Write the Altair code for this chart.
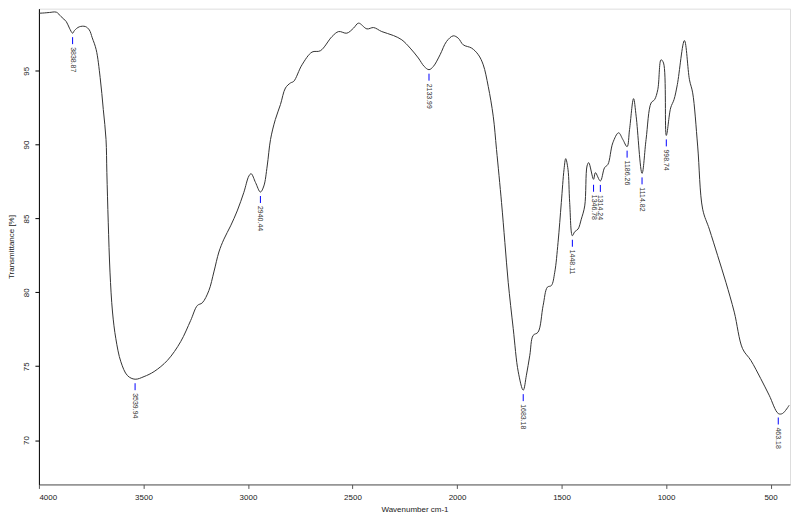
import altair as alt
import pandas as pd

wavenumber = [4000, 3974, 3950, 3916.5, 3894, 3869, 3854, 3838.87, 3830, 3807, 3778, 3759, 3745, 3726,
              3707, 3692, 3679, 3675, 3668.4, 3660, 3648, 3632, 3608, 3576, 3539.94, 3497, 3449, 3385,
              3322, 3274, 3242, 3218.5, 3187, 3163, 3139, 3115, 3083, 3051.5, 3019.6, 2995.7, 2984.7,
              2963.7, 2940.44, 2924, 2908, 2892, 2869, 2844.5, 2820.6, 2796.7, 2781, 2741.4, 2693.7,
              2653.6, 2598, 2566, 2527, 2495, 2471, 2431, 2399, 2360, 2304, 2264, 2224, 2185, 2157,
              2133.99, 2113, 2081, 2050, 2018, 1994, 1970, 1930, 1898, 1874.5, 1850.6, 1826.7, 1811,
              1787, 1771, 1755, 1731, 1707, 1683.18, 1668, 1651.7, 1636, 1612, 1588, 1567.7, 1548.6,
              1532.4, 1516.6, 1501, 1488, 1480, 1469, 1461, 1448.11, 1437, 1421, 1405.5, 1389, 1378,
              1370, 1346.78, 1338, 1314.24, 1294, 1278, 1254.6, 1227, 1207, 1186.26, 1174.6, 1155.5,
              1143, 1114.82, 1095.5, 1071.5, 1055, 1039.5, 1024, 1012, 998.74, 978, 962, 946, 912, 888,
              872.6, 848.7, 824.8, 793, 753, 713.7, 673.6, 634, 594.5, 547, 506.7, 463.18, 443, 411]
transmittance = [98.89, 98.91, 98.94, 98.96, 98.66, 98.32, 97.88, 97.54, 97.72, 97.97, 97.99, 97.76,
                 97.23, 96.42, 94.53, 92.37, 90.35, 88.10, 84.75, 81.37, 78.67, 76.86, 75.30, 74.36,
                 74.12, 74.30, 74.64, 75.40, 76.66, 78.10, 79.11, 79.29, 80.12, 81.38, 82.73, 83.60,
                 84.50, 85.51, 86.77, 87.87, 88.03, 87.43, 86.79, 87.20, 88.55, 90.35, 91.70, 92.71,
                 93.83, 94.17, 94.28, 95.40, 96.26, 96.35, 97.31, 97.65, 97.54, 97.88, 98.22, 97.83,
                 97.92, 97.65, 97.38, 97.09, 96.53, 95.86, 95.29, 95.07, 95.29, 96.08, 96.98, 97.36,
                 97.20, 96.75, 96.53, 96.08, 95.40, 93.94, 91.92, 89.67, 86.08, 83.38, 80.68, 77.54,
                 74.62, 73.38, 74.39, 75.74, 77.08, 77.31, 79.11, 80.35, 80.46, 81.36, 83.38, 86.08,
                 88.32, 89.05, 88.32, 86.08, 83.83, 84.10, 84.28, 84.95, 85.85, 88.55, 88.78, 87.65,
                 88.10, 87.54, 88.44, 88.66, 90.12, 90.80, 90.35, 89.86, 91.02, 93.11, 91.92, 88.05,
                 90.35, 92.82, 93.04, 93.72, 95.74, 95.52, 90.62, 92.48, 93.04, 94.06, 97.04, 94.39,
                 93.50, 89.90, 85.63, 84.28, 82.48, 80.68, 78.66, 76.19, 75.40, 74.16, 73.04, 71.80,
                 71.80, 72.36]

peak_wavenumber = [3838.87, 3539.94, 2940.44, 2133.99, 1683.18, 1448.11, 1346.78, 1314.24,
                   1186.26, 1114.82, 998.74, 463.18]
peak_transmittance = [97.54, 74.12, 86.79, 95.07, 73.38, 83.83, 87.55, 87.54, 89.86, 88.05,
                      90.62, 71.80]
peak_labels = ["3838.87", "3539.94", "2940.44", "2133.99", "1683.18", "1448.11", "1346.78",
               "1314.24", "1186.26", "1114.82", "998.74", "463.18"]

x_ticks = [4000, 3500, 3000, 2500, 2000, 1500, 1000, 500]
y_ticks = [70, 75, 80, 85, 90, 95]

spectrum = pd.DataFrame({"wn": wavenumber, "T": transmittance})
peaks = pd.DataFrame({"wn": peak_wavenumber, "T": peak_transmittance, "label": peak_labels})

W, H = 753, 477
FONT = "Liberation Sans"
xs = alt.Scale(domain=[4000, 407], nice=False, zero=False)
ys = alt.Scale(domain=[67.0, 99.2], nice=False, zero=False)

x_axis = alt.Axis(values=x_ticks, format="d", title="Wavenumber cm-1", grid=False,
                  tickSize=4, labelPadding=5, labelFontSize=8, titleFontSize=8,
                  titleFontWeight="normal", titleX=W / 2, titleY=25, titleAlign="center",
                  titleBaseline="middle", domainColor="#555555", tickColor="#555555",
                  labelColor="#222222", titleColor="#222222", labelFont=FONT, titleFont=FONT)
y_axis = alt.Axis(values=y_ticks, format="d", title="Transmittance [%]", grid=False,
                  tickSize=4, labelAngle=270, labelAlign="center", labelBaseline="bottom",
                  labelPadding=4, labelFontSize=8, titleFontSize=8, titleFontWeight="normal",
                  titleAngle=270, titleX=-27, titleY=H / 2, titleAlign="center",
                  titleBaseline="middle", domainColor="#000000", tickColor="#000000",
                  labelColor="#222222", titleColor="#222222", labelFont=FONT, titleFont=FONT)

line = alt.Chart(spectrum).mark_line(color="#333333", strokeWidth=1,
                                     interpolate="catmull-rom").encode(
    x=alt.X("wn:Q", scale=xs, axis=x_axis),
    y=alt.Y("T:Q", scale=ys, axis=y_axis),
)

ticks = alt.Chart(peaks).mark_rule(color="#0000ff", strokeWidth=1, yOffset=4, y2Offset=11).encode(
    x=alt.X("wn:Q", scale=xs),
    y=alt.Y("T:Q", scale=ys),
    y2=alt.Y2("T"),
)

labels = alt.Chart(peaks).mark_text(angle=90, align="left", baseline="middle", fontSize=7,
                                    yOffset=14, color="#333333", font=FONT).encode(
    x=alt.X("wn:Q", scale=xs),
    y=alt.Y("T:Q", scale=ys),
    text="label:N",
)

chart = alt.layer(line, ticks, labels).properties(
    width=W, height=H,
    autosize=alt.AutoSizeParams(type="none"),
    padding={"left": 31, "top": 0, "right": 2, "bottom": 34},
).configure_view(stroke="#444444", strokeWidth=1).configure(background="white")

chart.save("out.html", embed_options={"renderer": "svg", "actions": False})
